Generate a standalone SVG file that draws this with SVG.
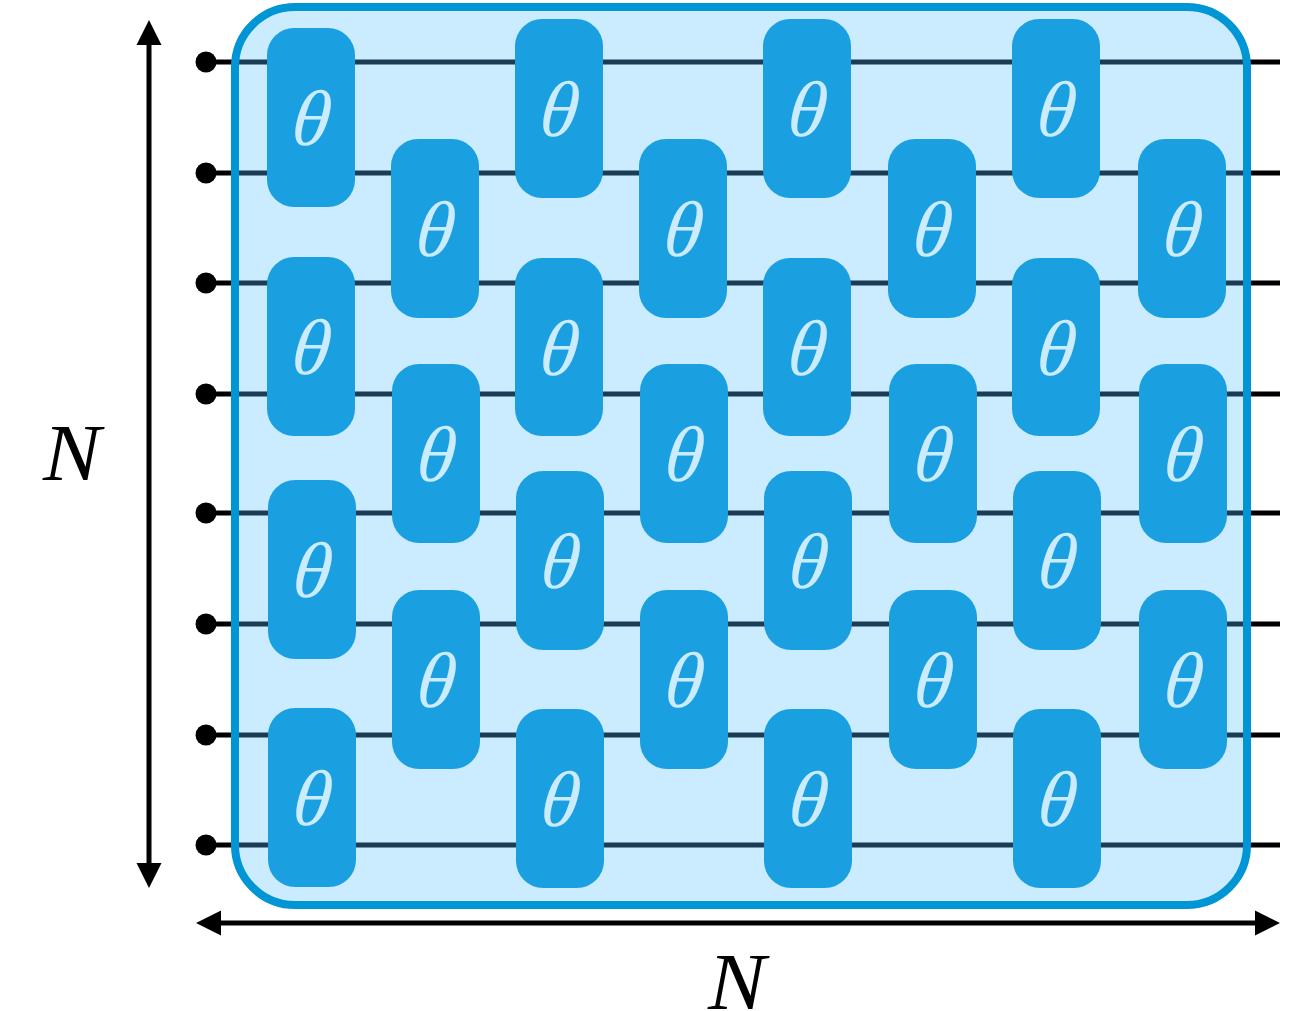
<svg xmlns="http://www.w3.org/2000/svg" width="1306" height="1011" viewBox="0 0 1306 1011">
<style>
.w{stroke:#000;stroke-width:5;fill:none}
.wi{stroke:#1a3d55;stroke-width:5;fill:none}
.d{fill:#000}
.g{fill:#1aa0e0}
.t{font-family:"Liberation Serif",serif;font-style:italic;font-size:76px;fill:#cbebff;text-anchor:middle;transform-box:fill-box;transform-origin:center;transform:skewX(-7deg) scaleX(1.02) scaleY(1.04)}
.n{font-family:"Liberation Serif",serif;font-style:italic;font-size:80px;fill:#000;text-anchor:middle;transform-box:fill-box;transform-origin:center;transform:scaleX(1.08)}
.a{stroke:#000;stroke-width:5;fill:none}
</style>
<g id="connectors">
<path class="w" d="M206 62H1280M206 173H1280M206 283H1280M206 394H1280M206 513H1280M206 624H1280M206 735H1280M206 845H1280"/>
<circle class="d" cx="206" cy="62" r="10.5"/><circle class="d" cx="206" cy="173" r="10.5"/><circle class="d" cx="206" cy="283" r="10.5"/><circle class="d" cx="206" cy="394" r="10.5"/><circle class="d" cx="206" cy="513" r="10.5"/><circle class="d" cx="206" cy="624" r="10.5"/><circle class="d" cx="206" cy="735" r="10.5"/><circle class="d" cx="206" cy="845" r="10.5"/>
<path class="a" d="M149 40V868"/><path class="d" d="M149 20L161.500 45H136.500ZM149 888L161.500 863H136.500Z"/>
<path class="a" d="M216 923H1260"/><path class="d" d="M196 923L221 910.500V935.500ZM1280 923L1255 910.500V935.500Z"/>
</g>
<rect id="panel" x="235" y="7" width="1012" height="898" rx="60" fill="#cbebff"/>
<path class="wi" d="M236 62H1248M236 173H1248M236 283H1248M236 394H1248M236 513H1248M236 624H1248M236 735H1248M236 845H1248"/>
<rect x="235" y="7" width="1012" height="898" rx="60" fill="none" stroke="#0095d4" stroke-width="8"/>
<g id="g11"><rect class="g" x="267" y="28" width="88" height="179" rx="27"/><text class="t" x="312" y="144">θ</text></g>
<g id="g12"><rect class="g" x="267" y="257" width="88" height="179" rx="27"/><text class="t" x="312" y="373">θ</text></g>
<g id="g13"><rect class="g" x="268" y="480" width="88" height="179" rx="27"/><text class="t" x="313" y="596">θ</text></g>
<g id="g14"><rect class="g" x="268" y="708" width="88" height="179" rx="27"/><text class="t" x="313" y="824">θ</text></g>
<g id="g21"><rect class="g" x="391" y="139" width="88" height="179" rx="27"/><text class="t" x="436" y="255">θ</text></g>
<g id="g22"><rect class="g" x="392" y="364" width="88" height="179" rx="27"/><text class="t" x="437" y="480">θ</text></g>
<g id="g23"><rect class="g" x="392" y="590" width="88" height="179" rx="27"/><text class="t" x="437" y="706">θ</text></g>
<g id="g31"><rect class="g" x="515" y="19" width="88" height="179" rx="27"/><text class="t" x="560" y="135">θ</text></g>
<g id="g32"><rect class="g" x="515" y="258" width="88" height="178" rx="27"/><text class="t" x="560" y="374">θ</text></g>
<g id="g33"><rect class="g" x="516" y="471" width="88" height="179" rx="27"/><text class="t" x="561" y="587">θ</text></g>
<g id="g34"><rect class="g" x="516" y="709" width="88" height="179" rx="27"/><text class="t" x="561" y="825">θ</text></g>
<g id="g41"><rect class="g" x="639" y="139" width="88" height="179" rx="27"/><text class="t" x="684" y="255">θ</text></g>
<g id="g42"><rect class="g" x="640" y="364" width="88" height="179" rx="27"/><text class="t" x="685" y="480">θ</text></g>
<g id="g43"><rect class="g" x="640" y="590" width="88" height="179" rx="27"/><text class="t" x="685" y="706">θ</text></g>
<g id="g51"><rect class="g" x="763" y="19" width="88" height="179" rx="27"/><text class="t" x="808" y="135">θ</text></g>
<g id="g52"><rect class="g" x="763" y="258" width="88" height="178" rx="27"/><text class="t" x="808" y="374">θ</text></g>
<g id="g53"><rect class="g" x="764" y="471" width="88" height="179" rx="27"/><text class="t" x="809" y="587">θ</text></g>
<g id="g54"><rect class="g" x="764" y="709" width="88" height="179" rx="27"/><text class="t" x="809" y="825">θ</text></g>
<g id="g61"><rect class="g" x="888" y="139" width="88" height="179" rx="27"/><text class="t" x="933" y="255">θ</text></g>
<g id="g62"><rect class="g" x="889" y="364" width="88" height="179" rx="27"/><text class="t" x="934" y="480">θ</text></g>
<g id="g63"><rect class="g" x="889" y="590" width="88" height="179" rx="27"/><text class="t" x="934" y="706">θ</text></g>
<g id="g71"><rect class="g" x="1012" y="19" width="88" height="179" rx="27"/><text class="t" x="1057" y="135">θ</text></g>
<g id="g72"><rect class="g" x="1012" y="258" width="88" height="178" rx="27"/><text class="t" x="1057" y="374">θ</text></g>
<g id="g73"><rect class="g" x="1013" y="471" width="88" height="179" rx="27"/><text class="t" x="1058" y="587">θ</text></g>
<g id="g74"><rect class="g" x="1013" y="709" width="88" height="179" rx="27"/><text class="t" x="1058" y="825">θ</text></g>
<g id="g81"><rect class="g" x="1138" y="139" width="88" height="179" rx="27"/><text class="t" x="1183" y="255">θ</text></g>
<g id="g82"><rect class="g" x="1139" y="364" width="88" height="179" rx="27"/><text class="t" x="1184" y="480">θ</text></g>
<g id="g83"><rect class="g" x="1139" y="590" width="88" height="179" rx="27"/><text class="t" x="1184" y="706">θ</text></g>
<text class="n" x="72" y="480">N</text>
<text class="n" x="737" y="1009">N</text>
</svg>
